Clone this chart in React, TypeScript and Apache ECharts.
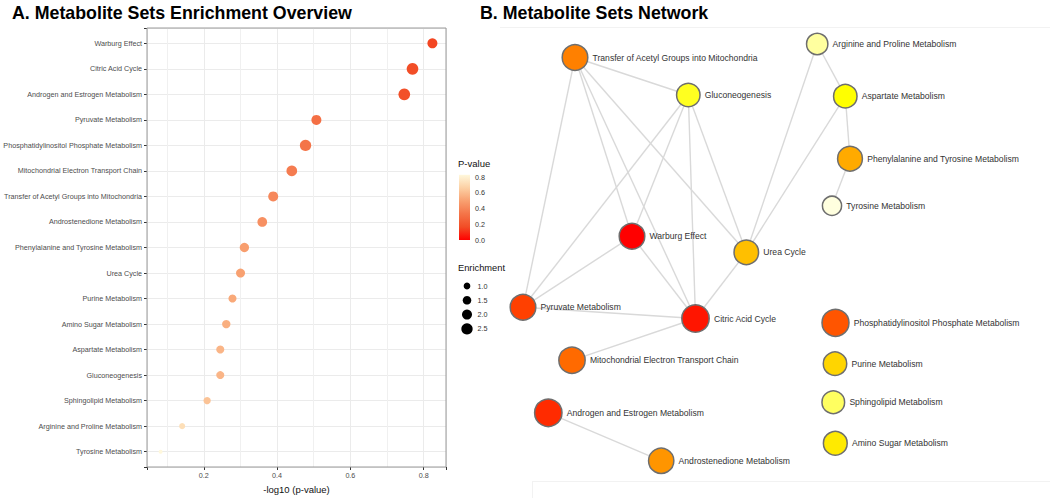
import React, { useEffect, useRef } from 'react';
import * as echarts from 'echarts';

// ---------- data ----------
const categories = [
  'Warburg Effect',
  'Citric Acid Cycle',
  'Androgen and Estrogen Metabolism',
  'Pyruvate Metabolism',
  'Phosphatidylinositol Phosphate Metabolism',
  'Mitochondrial Electron Transport Chain',
  'Transfer of Acetyl Groups into Mitochondria',
  'Androstenedione Metabolism',
  'Phenylalanine and Tyrosine Metabolism',
  'Urea Cycle',
  'Purine Metabolism',
  'Amino Sugar Metabolism',
  'Aspartate Metabolism',
  'Gluconeogenesis',
  'Sphingolipid Metabolism',
  'Arginine and Proline Metabolism',
  'Tyrosine Metabolism',
];
const pValues = [0.150, 0.170, 0.179, 0.311, 0.333, 0.363, 0.408, 0.437, 0.489, 0.501, 0.527, 0.548, 0.569, 0.569, 0.618, 0.723, 0.828];
const enrichment = [2.0, 2.65, 2.65, 2.0, 2.5, 2.25, 2.0, 1.9, 1.75, 1.65, 1.35, 1.45, 1.35, 1.35, 1.15, 0.85, 0.48];
const xTickStep = 0.2;
const xMinorLines = [0.1, 0.3, 0.5, 0.7];
const pLegendTicks = [0.0, 0.2, 0.4, 0.6, 0.8];
const sizeLegendValues = [1.0, 1.5, 2.0, 2.5];

// network layout, same order as categories
const nodeX = [632, 695.5, 548.3, 523, 835.5, 572, 575, 661.2, 850, 746.3, 835, 835.3, 845.3, 688.3, 833.3, 817.2, 832];
const nodeY = [236.3, 318.5, 412.8, 307.3, 322.8, 360.3, 57.5, 460.8, 158.7, 252.3, 363.7, 443.3, 96.2, 95, 402.2, 44, 205.8];
const edges: [string, string][] = [
  ['Transfer of Acetyl Groups into Mitochondria', 'Gluconeogenesis'],
  ['Transfer of Acetyl Groups into Mitochondria', 'Pyruvate Metabolism'],
  ['Transfer of Acetyl Groups into Mitochondria', 'Warburg Effect'],
  ['Transfer of Acetyl Groups into Mitochondria', 'Citric Acid Cycle'],
  ['Transfer of Acetyl Groups into Mitochondria', 'Urea Cycle'],
  ['Gluconeogenesis', 'Pyruvate Metabolism'],
  ['Gluconeogenesis', 'Warburg Effect'],
  ['Gluconeogenesis', 'Citric Acid Cycle'],
  ['Gluconeogenesis', 'Urea Cycle'],
  ['Arginine and Proline Metabolism', 'Aspartate Metabolism'],
  ['Arginine and Proline Metabolism', 'Urea Cycle'],
  ['Aspartate Metabolism', 'Urea Cycle'],
  ['Aspartate Metabolism', 'Phenylalanine and Tyrosine Metabolism'],
  ['Phenylalanine and Tyrosine Metabolism', 'Tyrosine Metabolism'],
  ['Warburg Effect', 'Pyruvate Metabolism'],
  ['Warburg Effect', 'Citric Acid Cycle'],
  ['Pyruvate Metabolism', 'Citric Acid Cycle'],
  ['Citric Acid Cycle', 'Urea Cycle'],
  ['Citric Acid Cycle', 'Mitochondrial Electron Transport Chain'],
  ['Androgen and Estrogen Metabolism', 'Androstenedione Metabolism'],
];

// ---------- styles / scales ----------
const FONT = "'Liberation Sans', Arial, Helvetica, sans-serif";
const colorStops = ['#FF0000', '#F24D26', '#F47448', '#F8A070', '#FCD0A4', '#FFF8DC'];
const sizeScale = (e: number) => Math.sqrt(Math.max(55.2 * e - 10.3, 4));

function heatColor(rank: number, n: number): string {
  const j = Math.floor(n / 4);
  const i = n - j;
  const hex = (v: number) => Math.round(v).toString(16).padStart(2, '0');
  if (rank < i) {
    const g = (255 * rank) / (i - 1);
    return '#ff' + hex(g) + '00';
  }
  const k = rank - i;
  const s0 = 1 - 1 / (2 * j);
  const s1 = 1 / (2 * j);
  const s = j > 1 ? s0 + ((s1 - s0) * k) / (j - 1) : s0;
  return '#ffff' + hex(255 * (1 - s));
}

const isMultiple = (v: number, step: number) => Math.abs(v / step - Math.round(v / step)) < 1e-6;

export default function App() {
  const ref = useRef<HTMLDivElement>(null);
  useEffect(() => {
    if (!ref.current) return;
    const chart = echarts.init(ref.current, undefined, { renderer: 'svg' });

    const xVals = pValues.map((p) => -Math.log10(p));
    const xLo = Math.min(...xVals);
    const xHi = Math.max(...xVals);
    const xMin = xLo - 0.05 * (xHi - xLo);
    const xMax = xHi + 0.05 * (xHi - xLo);
    const pMax = Math.max(...pValues);
    const idx = categories.map((_, i) => i);

    const scatterData = categories.map((c, i) => [xVals[i], i, pValues[i], enrichment[i], c]);

    // network
    const order = idx.slice().sort((a, b) => pValues[a] - pValues[b]);
    const rank: number[] = [];
    order.forEach((k, r) => (rank[k] = r));
    const nodes = categories.map((c, i) => ({
      name: c,
      x: nodeX[i],
      y: nodeY[i],
      value: enrichment[i],
      symbolSize: 14.8 + 1.08 * sizeScale(enrichment[i]),
      itemStyle: { color: heatColor(rank[i], categories.length), borderColor: '#6E6E6E', borderWidth: 1.5 },
    }));
    const links = edges.map(([s, t]) => ({ source: s, target: t }));
    const gl = Math.min(...nodeX);
    const gt = Math.min(...nodeY);
    const gw = Math.max(...nodeX) - gl;
    const gh = Math.max(...nodeY) - gt;

    // legends
    const barBottom = 240;
    const barK = 78.75;
    const barTop = barBottom - pMax * barK;
    const grad = new echarts.graphic.LinearGradient(
      0, 0, 0, 1,
      colorStops.map((c, i) => ({ offset: 1 - i / (colorStops.length - 1), color: c })).reverse()
    );
    const legendEls: any[] = [
      { type: 'text', x: 458, y: 163, style: { text: 'P-value', fontSize: 9.5, fontFamily: FONT, fill: '#111', verticalAlign: 'middle' } },
      { type: 'rect', shape: { x: 459, y: barTop, width: 11, height: barBottom - barTop }, style: { fill: grad } },
      ...pLegendTicks.map((v) => ({
        type: 'text', x: 475, y: barBottom - v * barK,
        style: { text: v.toFixed(1), fontSize: 7.2, fontFamily: FONT, fill: '#333', verticalAlign: 'middle' },
      })),
      { type: 'text', x: 458, y: 268, style: { text: 'Enrichment', fontSize: 9.3, fontFamily: FONT, fill: '#111', verticalAlign: 'middle' } },
      ...sizeLegendValues.map((v, i) => ({
        type: 'circle', shape: { cx: 467, cy: 286 + i * 14.3, r: sizeScale(v) / 2 }, style: { fill: '#000' },
      })),
      ...sizeLegendValues.map((v, i) => ({
        type: 'text', x: 477.5, y: 286 + i * 14.3,
        style: { text: v.toFixed(1), fontSize: 7.2, fontFamily: FONT, fill: '#333', verticalAlign: 'middle' },
      })),
    ];

    chart.setOption({
      animation: false,
      backgroundColor: '#fff',
      grid: { left: 147, top: 28, width: 299, height: 439, show: false, containLabel: false, outerBoundsMode: 'none' },
      visualMap: {
        type: 'continuous', show: false, min: 0, max: pMax, dimension: 2, seriesIndex: 0,
        inRange: { color: colorStops },
      },
      xAxis: {
        type: 'value', min: xMin, max: xMax, minInterval: xTickStep, maxInterval: xTickStep,
        axisLine: { show: false, onZero: false },
        axisTick: { show: true, length: 3, lineStyle: { color: '#333' } },
        axisLabel: {
          fontSize: 7.2, color: '#4D4D4D', fontFamily: FONT, margin: 5,
          formatter: (v: number) => (isMultiple(v, xTickStep) ? v.toFixed(1) : ''),
        },
        splitLine: { show: true, lineStyle: { color: '#EBEBEB', width: 1 } },
        name: '-log10 (p-value)', nameLocation: 'middle', nameGap: 17,
        nameTextStyle: { fontSize: 9.5, color: '#111', fontFamily: FONT },
      },
      yAxis: {
        type: 'value', inverse: true, min: -0.6, max: categories.length - 0.4, minInterval: 1, maxInterval: 1,
        axisLine: { show: false, onZero: false },
        axisTick: { show: true, length: 3, lineStyle: { color: '#333' } },
        axisLabel: {
          fontSize: 7.2, color: '#4D4D4D', fontFamily: FONT, margin: 5,
          formatter: (v: number) => (isMultiple(v, 1) && categories[Math.round(v)]) || '',
        },
        splitLine: { show: true, lineStyle: { color: '#EBEBEB', width: 1 } },
      },
      series: [
        {
          type: 'scatter', z: 3,
          data: scatterData,
          symbol: 'circle',
          symbolSize: (v: any[]) => sizeScale(v[3]),
          itemStyle: { opacity: 1 },
          silent: true,
        },
        {
          type: 'scatter', z: 1, data: [], silent: true,
          markLine: {
            z: 1, silent: true, symbol: ['none', 'none'], label: { show: false },
            lineStyle: { color: '#F0F0F0', width: 1, type: 'solid' },
            emphasis: { disabled: true },
            data: xMinorLines.map((v) => ({ xAxis: v })),
          },
        },
        {
          type: 'graph', layout: 'none', left: gl, top: gt, width: gw, height: gh,
          roam: false, silent: true,
          data: nodes, links,
          lineStyle: { color: '#D9D9D9', width: 1.4, opacity: 1, curveness: 0 },
          label: { show: true, position: 'right', distance: 4, fontSize: 8.6, color: '#333', fontFamily: FONT },
          emphasis: { disabled: true },
        },
      ],
      graphic: [
        { type: 'text', x: 12, y: 12.7, style: { text: 'A. Metabolite Sets Enrichment Overview', fontSize: 17.8, fontWeight: 'bold', fontFamily: FONT, fill: '#000', verticalAlign: 'middle' } },
        { type: 'text', x: 480, y: 12.7, style: { text: 'B. Metabolite Sets Network', fontSize: 17.8, fontWeight: 'bold', fontFamily: FONT, fill: '#000', verticalAlign: 'middle' } },
        { type: 'rect', z: 100, shape: { x: 147, y: 28, width: 299, height: 439 }, style: { fill: 'none', stroke: '#9A9A9A', lineWidth: 1 } },
        { type: 'line', shape: { x1: 500, y1: 27.5, x2: 1050, y2: 27.5 }, style: { stroke: '#F2F2F2', lineWidth: 1 } },
        { type: 'line', shape: { x1: 532, y1: 481.5, x2: 1050, y2: 481.5 }, style: { stroke: '#F2F2F2', lineWidth: 1 } },
        { type: 'line', shape: { x1: 532.5, y1: 481.5, x2: 532.5, y2: 498 }, style: { stroke: '#F2F2F2', lineWidth: 1 } },
        ...legendEls,
      ],
    });
    return () => chart.dispose();
  }, []);
  return <div ref={ref} style={{ position: 'absolute', left: 0, top: 0, width: 1050, height: 498 }} />;
}
